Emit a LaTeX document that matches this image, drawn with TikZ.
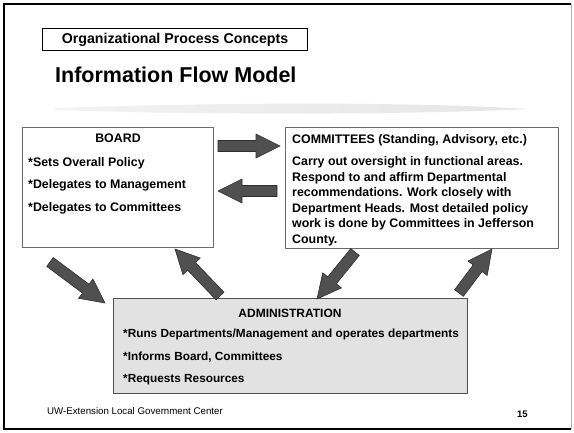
\documentclass[tikz,border=0pt]{standalone}
\usepackage{fontspec}
\setmainfont{Liberation Sans}
\usetikzlibrary{calc}
\definecolor{arrowfill}{HTML}{505050}
\definecolor{arrowline}{HTML}{2E2E2E}
\definecolor{boxline}{HTML}{6A6A6A}
\definecolor{adminfill}{HTML}{E2E2E2}
\tikzset{
  boxnode/.style={draw=boxline, line width=1.1pt, fill=white, inner sep=0pt, anchor=north west},
  blockarrowstyle/.style={draw=arrowline, line width=0.6pt, fill=arrowfill, line join=miter},
  boxtext/.style={font=\bfseries\fontsize{12.4}{15.5}\selectfont, inner sep=0pt, anchor=base west, align=left},
}
\newcommand\shaftw{5.5pt}
\newcommand\headw{12pt}
\newcommand\headlen{24pt}
\newcommand\blockarrow[2]{%
  \coordinate (bah) at ($(#2)!\headlen!(#1)$);
  \path[blockarrowstyle] ($(#1)!\shaftw!90:(#2)$) -- ($(bah)!\shaftw!-90:(#1)$)
    -- ($(bah)!\headw!-90:(#1)$) -- (#2) -- ($(bah)!\headw!90:(#1)$)
    -- ($(bah)!\shaftw!90:(#1)$) -- ($(#1)!\shaftw!-90:(#2)$) -- cycle;}
\begin{document}
\begin{tikzpicture}[x=1pt,y=-1pt]
\useasboundingbox (0,0) rectangle (574,432);
% outer frame
\draw[gray!60, line width=0.8pt] (4,4) -- (571,4) -- (571,429);
\draw[black, line width=1.6pt] (571,4) -- (4,4) -- (4,429) -- (571,429);
% header
\node[draw=black, line width=1.1pt, minimum width=265pt, minimum height=22pt, inner sep=0pt, anchor=north west,
      font=\bfseries\fontsize{14.2}{16}\selectfont] (hdr) at (42,28) {Organizational Process Concepts};
\node[font=\bfseries\fontsize{21.5}{24}\selectfont, inner sep=0pt, anchor=base west] (ttl) at (55,82.5) {Information Flow Model};
% brush stroke
\shade[left color=gray!10, middle color=gray!55, right color=gray!20]
  (55,108) .. controls (200,103) and (400,101) .. (527,109) .. controls (400,115) and (200,115) .. (55,110) -- cycle;
% boxes
\node[boxnode, minimum width=191pt, minimum height=120pt] (board) at (22,127) {};
\node[boxnode, minimum width=273pt, minimum height=121pt] (comm) at (285,127) {};
\node[boxnode, draw=arrowfill, fill=adminfill, minimum width=354pt, minimum height=95pt] (admin) at (113,298) {};
% board text
\node[boxtext, anchor=base] (boardttl) at (118,142.5) {BOARD};
\node[boxtext] (b1) at (28,166.5) {*Sets Overall Policy};
\node[boxtext] (b2) at (28,188.5) {*Delegates to Management};
\node[boxtext] (b3) at (28,211) {*Delegates to Committees};
% committees text
\node[boxtext] (commttl) at (292,143.5) {COMMITTEES (Standing, Advisory, etc.)};
\node[boxtext, anchor=north west] (commtxt) at (292,156.5) {Carry out oversight in functional areas.\\
Respond to and affirm Departmental\\
recommendations. Work closely with\\
Department Heads. Most detailed policy\\
work is done by Committees in Jefferson\\
County.};
% admin text
\node[boxtext, font=\bfseries\fontsize{12}{14}\selectfont, anchor=base] (adminttl) at (290,317.5) {ADMINISTRATION};
\node[boxtext, font=\bfseries\fontsize{11.8}{14}\selectfont] (a1) at (123,337.5) {*Runs Departments/Management and operates departments};
\node[boxtext, font=\bfseries\fontsize{11.8}{14}\selectfont] (a2) at (123,360.5) {*Informs Board, Committees};
\node[boxtext, font=\bfseries\fontsize{11.8}{14}\selectfont] (a3) at (123,382.5) {*Requests Resources};
% footer
\node[font=\fontsize{9.7}{11}\selectfont, inner sep=0pt, anchor=west] (foot) at (47,411) {UW-Extension Local Government Center};
\node[font=\bfseries\fontsize{9.5}{11}\selectfont, inner sep=0pt, anchor=west] (pg) at (517,414) {15};
% arrow end points
\coordinate (a1s) at (218,146); \coordinate (a1e) at (280,146);
\coordinate (a2s) at (277,191); \coordinate (a2e) at (218,191);
\coordinate (a3s) at (50,262);  \coordinate (a3e) at (105,303);
\coordinate (a4s) at (220,296); \coordinate (a4e) at (175,249);
\coordinate (a5s) at (355,252); \coordinate (a5e) at (317,299);
\coordinate (a6s) at (459,293); \coordinate (a6e) at (492,249);
\blockarrow{a1s}{a1e}
\blockarrow{a2s}{a2e}
\blockarrow{a3s}{a3e}
\blockarrow{a4s}{a4e}
\blockarrow{a5s}{a5e}
\blockarrow{a6s}{a6e}
\end{tikzpicture}
\end{document}
